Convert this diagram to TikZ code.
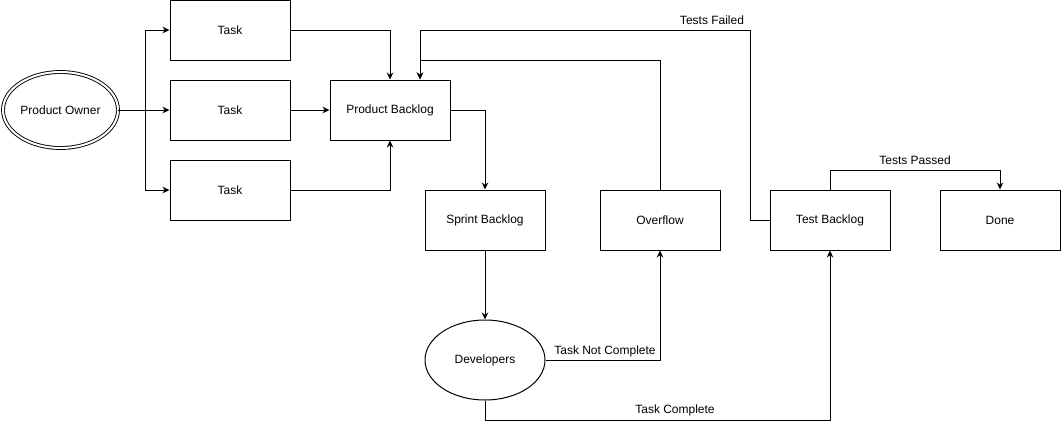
\documentclass[tikz,border=0pt]{standalone}
\usepackage{fontspec}
\setmainfont{Liberation Sans}
\usetikzlibrary{shapes.geometric,arrows.meta}
\begin{document}
\begin{tikzpicture}[x=1pt,y=-1pt,
  font=\fontsize{12}{14}\selectfont,
  box/.style={draw,line width=1pt,rectangle,minimum width=120pt,minimum height=60pt,inner sep=0pt},
  oval/.style={draw,line width=1pt,ellipse,minimum width=120pt,minimum height=80pt,inner sep=0pt},
  conn/.style={line width=1pt,-{Stealth[length=7pt,width=6.5pt]}},
  lbl/.style={inner sep=0pt}]
\useasboundingbox (0,0) rectangle (1061,429);
\node[draw,line width=0.9pt,ellipse,double,double distance=2pt,minimum width=115pt,minimum height=76pt,inner sep=0pt] (po) at (60.5,110) {Product Owner};
\node[box] (t1) at (230,30) {Task};
\node[box] (t2) at (230,110) {Task};
\node[box] (t3) at (230,190) {Task};
\node[box] (pb) at (390,110) {Product Backlog};
\node[box] (sb) at (485,220) {Sprint Backlog};
\node[box] (of) at (660,220) {Overflow};
\node[box] (tb) at (830,220) {Test Backlog};
\node[box] (done) at (1000,220) {Done};
\node[oval] (dev) at (485,360) {Developers};
\coordinate (br) at (145,110);
\coordinate (pbin) at ([xshift=30pt]pb.north);
\coordinate (fa) at (750,30);
\coordinate (ovl) at (0,60);
\coordinate (bot) at (0,420);
\coordinate (pas) at (0,170);
\draw[conn] (po.east) -- (t2.west);
\draw[conn] (po.east) -- (br) |- (t1.west);
\draw[conn] (br) |- (t3.west);
\draw[conn] (t1.east) -| (pb.north);
\draw[conn] (t2.east) -- (pb.west);
\draw[conn] (t3.east) -| (pb.south);
\draw[conn] (pb.east) -| (sb.north);
\draw[conn] (sb.south) -- (dev.north);
\draw[conn] (dev.east) -| (of.south);
\draw[conn] (dev.south) -- (dev.south |- bot) -| (tb.south);
\draw[conn] (of.north) -- (of.north |- ovl) -| (pbin);
\draw[conn] (tb.west) -| (fa) -| (pbin);
\draw[conn] (tb.north) -- (tb.north |- pas) -| (done.north);
\node[lbl] (l1) at (605,351) {Task Not Complete};
\node[lbl] (l2) at (675,410) {Task Complete};
\node[lbl] (l3) at (712,20) {Tests Failed};
\node[lbl] (l4) at (915,160) {Tests Passed};
\end{tikzpicture}
\end{document}
